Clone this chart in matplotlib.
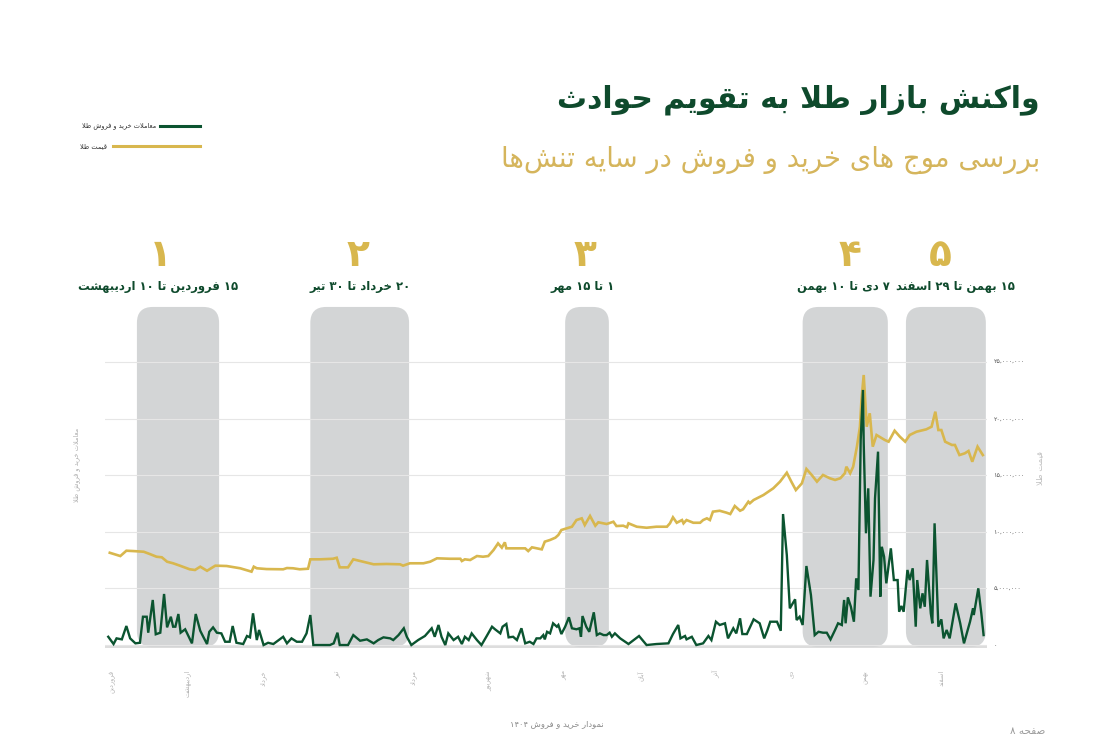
import matplotlib
matplotlib.use("Agg")
import matplotlib.pyplot as plt
from matplotlib.patches import FancyBboxPatch
from matplotlib.lines import Line2D

plt.rcParams['font.family'] = ['DejaVu Sans']

# ---------------- data ----------------
month_names = ['فروردین', 'اردیبهشت', 'خرداد', 'تیر', 'مرداد', 'شهریور',
               'مهر', 'آبان', 'آذر', 'دی', 'بهمن', 'اسفند']

# gold price (million toman), x = position in months from start of Farvardin
gold_month = [-0.03, 0.11, 0.19, 0.28, 0.42, 0.50, 0.59, 0.66, 0.73, 0.81, 0.90, 1.03, 1.10, 1.17, 1.26,
              1.37, 1.52, 1.70, 1.85, 1.88, 1.92, 2.05, 2.27, 2.32, 2.40, 2.49, 2.60, 2.63, 2.76, 2.93,
              2.98, 3.02, 3.13, 3.20, 3.33, 3.47, 3.64, 3.82, 3.86, 3.95, 4.13, 4.22, 4.31, 4.48, 4.62,
              4.64, 4.68, 4.75, 4.84, 4.92, 4.99, 5.06, 5.12, 5.17, 5.21, 5.23, 5.37, 5.48, 5.52, 5.57,
              5.70, 5.74, 5.81, 5.88, 5.92, 5.96, 6.03, 6.10, 6.16, 6.23, 6.27, 6.34, 6.41, 6.45, 6.56,
              6.65, 6.69, 6.78, 6.83, 6.85, 6.96, 7.09, 7.22, 7.36, 7.40, 7.44, 7.49, 7.56, 7.58, 7.62,
              7.71, 7.80, 7.84, 7.89, 7.93, 7.97, 8.06, 8.15, 8.20, 8.26, 8.33, 8.37, 8.44, 8.46, 8.51,
              8.64, 8.77, 8.86, 8.95, 9.01, 9.07, 9.15, 9.21, 9.28, 9.35, 9.43, 9.52, 9.59, 9.66, 9.72,
              9.74, 9.79, 9.83, 9.88, 9.92, 9.94, 9.97, 10.01, 10.05, 10.09, 10.14, 10.25, 10.30, 10.38,
              10.45, 10.52, 10.58, 10.67, 10.80, 10.87, 10.92, 10.96, 11.00, 11.05, 11.14, 11.18, 11.24,
              11.31, 11.36, 11.41, 11.48, 11.55]
gold_price = [8.15, 7.86, 8.33, 8.30, 8.24, 8.04, 7.80, 7.75, 7.36, 7.22, 7.01, 6.69, 6.63, 6.92, 6.56,
              7.01, 6.98, 6.78, 6.48, 6.92, 6.78, 6.71, 6.69, 6.80, 6.78, 6.69, 6.74, 7.57, 7.57, 7.62,
              7.71, 6.86, 6.86, 7.57, 7.36, 7.13, 7.16, 7.13, 7.01, 7.22, 7.22, 7.36, 7.66, 7.62, 7.62,
              7.42, 7.57, 7.51, 7.86, 7.80, 7.86, 8.39, 8.98, 8.60, 9.07, 8.54, 8.54, 8.54, 8.30, 8.63,
              8.45, 9.13, 9.28, 9.48, 9.72, 10.16, 10.31, 10.45, 11.04, 11.19, 10.60, 11.40, 10.54, 10.84, 10.69,
              10.89, 10.51, 10.54, 10.40, 10.75, 10.45, 10.36, 10.45, 10.45, 10.75, 11.28, 10.80, 11.04, 10.75, 11.04,
              10.80, 10.80, 11.04, 11.19, 11.04, 11.78, 11.86, 11.69, 11.57, 12.28, 11.86, 11.99, 12.66, 12.52, 12.81,
              13.25, 13.84, 14.43, 15.22, 14.43, 13.69, 14.28, 15.55, 15.02, 14.43, 15.02, 14.73, 14.58, 14.73, 15.17,
              15.75, 15.17, 15.75, 17.52, 19.28, 21.64, 23.85, 19.28, 20.47, 17.52, 18.55, 18.11, 17.96, 18.93,
              18.40, 17.96, 18.55, 18.84, 19.05, 19.28, 20.61, 18.99, 18.99, 17.96, 17.67, 17.67, 16.78,
              16.93, 17.14, 16.19, 17.52, 16.78]

# gold trading volume (plotted on the same scale)
vol_month = [-0.05, 0.02, 0.06, 0.13, 0.19, 0.24, 0.31, 0.37, 0.41, 0.46, 0.48, 0.54, 0.58, 0.64, 0.69,
             0.73, 0.78, 0.81, 0.84, 0.88, 0.91, 0.97, 1.06, 1.11, 1.17, 1.21, 1.26, 1.29, 1.34, 1.39,
             1.45, 1.50, 1.56, 1.60, 1.65, 1.74, 1.79, 1.83, 1.87, 1.92, 1.95, 2.01, 2.07, 2.14, 2.21,
             2.27, 2.32, 2.38, 2.45, 2.52, 2.58, 2.63, 2.67, 2.76, 2.89, 2.94, 2.99, 3.02, 3.13, 3.20,
             3.29, 3.38, 3.47, 3.53, 3.60, 3.69, 3.73, 3.80, 3.87, 3.91, 3.97, 4.06, 4.15, 4.24, 4.28,
             4.33, 4.37, 4.42, 4.46, 4.53, 4.59, 4.64, 4.68, 4.73, 4.77, 4.84, 4.90, 4.97, 5.04, 5.08,
             5.15, 5.18, 5.23, 5.26, 5.32, 5.37, 5.43, 5.48, 5.54, 5.59, 5.63, 5.68, 5.72, 5.74, 5.77,
             5.81, 5.85, 5.90, 5.92, 5.96, 6.01, 6.06, 6.10, 6.16, 6.20, 6.22, 6.24, 6.29, 6.33, 6.39,
             6.43, 6.47, 6.52, 6.56, 6.60, 6.63, 6.67, 6.74, 6.85, 6.99, 7.09, 7.22, 7.38, 7.44, 7.51,
             7.54, 7.60, 7.62, 7.69, 7.75, 7.84, 7.91, 7.95, 8.01, 8.06, 8.13, 8.17, 8.24, 8.28, 8.33,
             8.36, 8.42, 8.51, 8.59, 8.65, 8.69, 8.73, 8.82, 8.87, 8.90, 8.95, 8.99, 9.06, 9.08, 9.12,
             9.16, 9.21, 9.27, 9.32, 9.37, 9.43, 9.48, 9.53, 9.59, 9.63, 9.68, 9.71, 9.73, 9.76, 9.80,
             9.84, 9.87, 9.90, 9.93, 9.96, 9.97, 10.00, 10.03, 10.06, 10.10, 10.12, 10.16, 10.19, 10.21,
             10.24, 10.27, 10.33, 10.37, 10.42, 10.44, 10.47, 10.50, 10.55, 10.58, 10.62, 10.66, 10.68,
             10.72, 10.75, 10.78, 10.81, 10.86, 10.88, 10.91, 10.96, 11.00, 11.03, 11.07, 11.11, 11.19,
             11.25, 11.30, 11.38, 11.42, 11.43, 11.49, 11.53, 11.56]
vol_value = [0.73, 0.09, 0.59, 0.50, 1.68, 0.59, 0.15, 0.20, 2.50, 2.50, 1.09, 3.98, 0.95, 1.09, 4.51,
             1.56, 2.50, 1.62, 1.62, 2.74, 1.09, 1.39, 0.15, 2.74, 1.26, 0.73, 0.09, 1.17, 1.56, 1.09,
             1.03, 0.29, 0.29, 1.68, 0.20, 0.09, 0.80, 0.68, 2.80, 0.44, 1.33, 0.00, 0.20, 0.09, 0.44,
             0.73, 0.15, 0.59, 0.29, 0.29, 1.03, 2.65, 0.00, 0.00, 0.00, 0.15, 1.09, 0.00, 0.00, 0.88,
             0.38, 0.50, 0.15, 0.44, 0.68, 0.59, 0.44, 0.88, 1.48, 0.73, 0.00, 0.44, 0.80, 1.48, 0.73,
             1.77, 0.73, 0.00, 1.03, 0.44, 0.73, 0.09, 0.73, 0.44, 1.03, 0.44, 0.00, 0.80, 1.62, 1.39,
             1.03, 1.62, 1.86, 0.68, 0.73, 0.44, 1.48, 0.15, 0.29, 0.09, 0.59, 0.59, 0.88, 0.50, 1.17,
             1.03, 1.92, 1.62, 1.77, 0.97, 1.62, 2.45, 1.48, 1.39, 1.48, 0.73, 2.56, 1.62, 1.17, 2.89,
             0.88, 1.03, 0.88, 0.88, 1.09, 0.73, 1.03, 0.59, 0.09, 0.80, 0.00, 0.09, 0.15, 0.97, 1.77,
             0.59, 0.80, 0.50, 0.73, 0.00, 0.15, 0.80, 0.44, 2.06, 1.77, 1.92, 0.59, 1.48, 1.03, 2.36,
             0.97, 0.97, 2.27, 1.92, 0.59, 1.26, 2.06, 2.06, 1.26, 11.57, 7.95, 3.24, 4.04, 2.21, 2.50,
             1.77, 6.98, 4.42, 0.88, 1.17, 1.09, 1.09, 0.50, 1.33, 1.92, 1.77, 3.98, 1.92, 4.21, 3.38,
             2.06, 5.89, 4.86, 18.11, 22.53, 17.82, 9.87, 13.84, 4.27, 7.51, 12.96, 17.08, 4.27, 8.68,
             7.80, 5.45, 8.54, 5.74, 5.74, 2.94, 3.45, 2.94, 6.63, 5.74, 6.78, 1.62, 5.74,
             3.24, 4.57, 3.38, 7.51, 2.80, 1.92, 10.75, 1.62, 2.27, 0.59, 1.33, 0.59, 3.68,
             1.92, 0.15, 2.06, 3.24, 2.65, 5.01, 2.80, 0.88]

# highlighted event windows (months)
band_start = [0.33, 2.63, 6.01, 9.16, 10.53]
band_end = [1.42, 3.94, 6.59, 10.29, 11.59]
band_numbers = ['۱', '۲', '۳', '۴', '۵']
band_titles = ['۱۵ فروردین تا ۱۰ اردیبهشت', '۲۰ خرداد تا ۳۰ تیر', '۱ تا ۱۵ مهر',
               '۷ دی تا ۱۰ بهمن', '۱۵ بهمن تا ۲۹ اسفند']

y_ticks = [0, 5, 10, 15, 20, 25]

title_text = 'واکنش بازار طلا به تقویم حوادث'
subtitle_text = 'بررسی موج های خرید و فروش در سایه تنش\u200cها'
legend_labels = ['معاملات خرید و فروش طلا', 'قیمت طلا']
left_label = 'معاملات خرید و فروش طلا'
right_label = 'قیمت طلا'
footer_text = 'نمودار خرید و فروش ۱۴۰۴'
page_text = 'صفحه ۸'

# ---------------- simple Persian shaping for matplotlib ----------------
FORMS = {
    'ا': ('\uFE8D', '\uFE8E', None, None), 'آ': ('\uFE81', '\uFE82', None, None),
    'ب': ('\uFE8F', '\uFE90', '\uFE91', '\uFE92'), 'پ': ('\uFB56', '\uFB57', '\uFB58', '\uFB59'),
    'ت': ('\uFE95', '\uFE96', '\uFE97', '\uFE98'), 'ث': ('\uFE99', '\uFE9A', '\uFE9B', '\uFE9C'),
    'ج': ('\uFE9D', '\uFE9E', '\uFE9F', '\uFEA0'), 'چ': ('\uFB7A', '\uFB7B', '\uFB7C', '\uFB7D'),
    'ح': ('\uFEA1', '\uFEA2', '\uFEA3', '\uFEA4'), 'خ': ('\uFEA5', '\uFEA6', '\uFEA7', '\uFEA8'),
    'د': ('\uFEA9', '\uFEAA', None, None), 'ذ': ('\uFEAB', '\uFEAC', None, None),
    'ر': ('\uFEAD', '\uFEAE', None, None), 'ز': ('\uFEAF', '\uFEB0', None, None),
    'ژ': ('\uFB8A', '\uFB8B', None, None),
    'س': ('\uFEB1', '\uFEB2', '\uFEB3', '\uFEB4'), 'ش': ('\uFEB5', '\uFEB6', '\uFEB7', '\uFEB8'),
    'ص': ('\uFEB9', '\uFEBA', '\uFEBB', '\uFEBC'), 'ض': ('\uFEBD', '\uFEBE', '\uFEBF', '\uFEC0'),
    'ط': ('\uFEC1', '\uFEC2', '\uFEC3', '\uFEC4'), 'ظ': ('\uFEC5', '\uFEC6', '\uFEC7', '\uFEC8'),
    'ع': ('\uFEC9', '\uFECA', '\uFECB', '\uFECC'), 'غ': ('\uFECD', '\uFECE', '\uFECF', '\uFED0'),
    'ف': ('\uFED1', '\uFED2', '\uFED3', '\uFED4'), 'ق': ('\uFED5', '\uFED6', '\uFED7', '\uFED8'),
    'ک': ('\uFB8E', '\uFB8F', '\uFB90', '\uFB91'), 'گ': ('\uFB92', '\uFB93', '\uFB94', '\uFB95'),
    'ل': ('\uFEDD', '\uFEDE', '\uFEDF', '\uFEE0'), 'م': ('\uFEE1', '\uFEE2', '\uFEE3', '\uFEE4'),
    'ن': ('\uFEE5', '\uFEE6', '\uFEE7', '\uFEE8'), 'و': ('\uFEED', '\uFEEE', None, None),
    'ه': ('\uFEE9', '\uFEEA', '\uFEEB', '\uFEEC'), 'ی': ('\uFBFC', '\uFBFD', '\uFBFE', '\uFBFF'),
}
LAM_ALEF = {'ا': ('\uFEFB', '\uFEFC'), 'آ': ('\uFEF5', '\uFEF6')}


def _joins_next(c):
    return c in FORMS and FORMS[c][2] is not None


def shape(s):
    out, i, n = [], 0, len(s)
    while i < n:
        c = s[i]
        if c not in FORMS:
            if c != '\u200c':
                out.append(c)
            i += 1
            continue
        pj = i > 0 and _joins_next(s[i - 1])
        if c == 'ل' and i + 1 < n and s[i + 1] in LAM_ALEF:
            out.append(LAM_ALEF[s[i + 1]][1 if pj else 0])
            i += 2
            continue
        nj = _joins_next(c) and i + 1 < n and s[i + 1] in FORMS
        iso, fin, ini, med = FORMS[c]
        out.append(med if (pj and nj) else fin if pj else ini if nj else iso)
        i += 1
    return ''.join(out)


DIGITS = set('۰۱۲۳۴۵۶۷۸۹0123456789,')


def fa(s):
    r = shape(s)[::-1]
    res, run = [], []
    for ch in r:
        if ch in DIGITS:
            run.append(ch)
        else:
            res.extend(run[::-1])
            run = []
            res.append(ch)
    res.extend(run[::-1])
    return ''.join(res)


def fa_num(v):
    s = f'{int(round(v * 1_000_000)):,}'
    return s.translate(str.maketrans('0123456789', '۰۱۲۳۴۵۶۷۸۹'))


# ---------------- styling ----------------
GREEN = '#0b5430'
GOLD = '#d8b74e'
TITLE_GREEN = '#0e4a2c'
SUB_GOLD = '#d5b55c'
BAND = '#d3d5d6'
W, H = 1118, 749

fig = plt.figure(figsize=(W / 100, H / 100), dpi=100)
fig.patch.set_facecolor('white')

ax = fig.add_axes([104.5 / W, 1 - 650.7 / H, (986.6 - 104.5) / W, (650.7 - 299.7) / H])
ax.set_xlim(-0.1, 11.6)
ax.set_ylim(-0.5, 30.5)
for sp in ax.spines.values():
    sp.set_visible(False)
ax.set_axisbelow(True)
ax.grid(axis='y', color='#e6e6e6', lw=0.8, zorder=0)
ax.axhline(-0.15, color='#dadada', lw=1.3, zorder=0.4)

# rounded grey bands
px_x = 75.4   # pixels per month
px_y = 11.32  # pixels per million
for b0, b1 in zip(band_start, band_end):
    p = FancyBboxPatch((b0, -0.18), b1 - b0, 30.04,
                       boxstyle='round,pad=0,rounding_size=0.21',
                       mutation_aspect=px_x / px_y,
                       facecolor=BAND, edgecolor='none', zorder=0.5)
    ax.add_patch(p)

ax.plot(gold_month, gold_price, color=GOLD, lw=1.9, zorder=3, solid_joinstyle='miter')
ax.plot(vol_month, vol_value, color=GREEN, lw=1.7, zorder=4, solid_joinstyle='miter')

ax.yaxis.tick_right()
ax.set_yticks(y_ticks)
ax.set_yticklabels([fa_num(v) for v in y_ticks], fontsize=4.6, color='#555555')
ax.tick_params(axis='y', length=0, pad=5)
ax.set_xticks(range(12))
ax.set_xticklabels([fa(m) for m in month_names], rotation=90, fontsize=4.8,
                   color='#b5b5b5', va='top')
ax.tick_params(axis='x', length=0, pad=14)

# titles
fig.text(1040 / W, 1 - 100 / H, fa(title_text), ha='right', va='center',
         fontsize=21.5, fontweight='bold', color=TITLE_GREEN)
fig.text(1040 / W, 1 - 160 / H, fa(subtitle_text), ha='right', va='center',
         fontsize=19.8, color=SUB_GOLD)

# legend
fig.add_artist(Line2D([160 / W, 200 / W], [1 - 126 / H] * 2, color=GREEN, lw=2.2))
fig.add_artist(Line2D([113 / W, 200 / W], [1 - 146 / H] * 2, color=GOLD, lw=2.2))
fig.text(156 / W, 1 - 126 / H, fa(legend_labels[0]), ha='right', va='center',
         fontsize=4.8, color='#333333')
fig.text(107 / W, 1 - 146 / H, fa(legend_labels[1]), ha='right', va='center',
         fontsize=4.8, color='#333333')

# band numbers and captions (captions right-aligned)
num_x = [160, 358, 585, 850, 940]
cap_right = [238, 411, 615, 890, 1015]
for nx, cx, num, cap in zip(num_x, cap_right, band_numbers, band_titles):
    fig.text(nx / W, 1 - 256 / H, num, ha='center', va='center', fontsize=27,
             fontweight='bold', color=GOLD)
    fig.text(cx / W, 1 - 287 / H, fa(cap), ha='right', va='center', fontsize=8.4,
             fontweight='bold', color=TITLE_GREEN)

# axis labels
fig.text(77 / W, 1 - 465 / H, fa(left_label), rotation=90, ha='center', va='center',
         fontsize=4.8, color='#b0b0b0')
fig.text(1040 / W, 1 - 468 / H, fa(right_label), rotation=90, ha='center', va='center',
         fontsize=6, color='#c0c0c0')

# footer
fig.text(557 / W, 1 - 724 / H, fa(footer_text), ha='center', va='center',
         fontsize=6, color='#8a8a8a')
fig.text(1045 / W, 1 - 731 / H, fa(page_text), ha='right', va='center',
         fontsize=7.5, color='#9a9a9a')

fig.savefig('out.png', dpi=100, facecolor='white')
